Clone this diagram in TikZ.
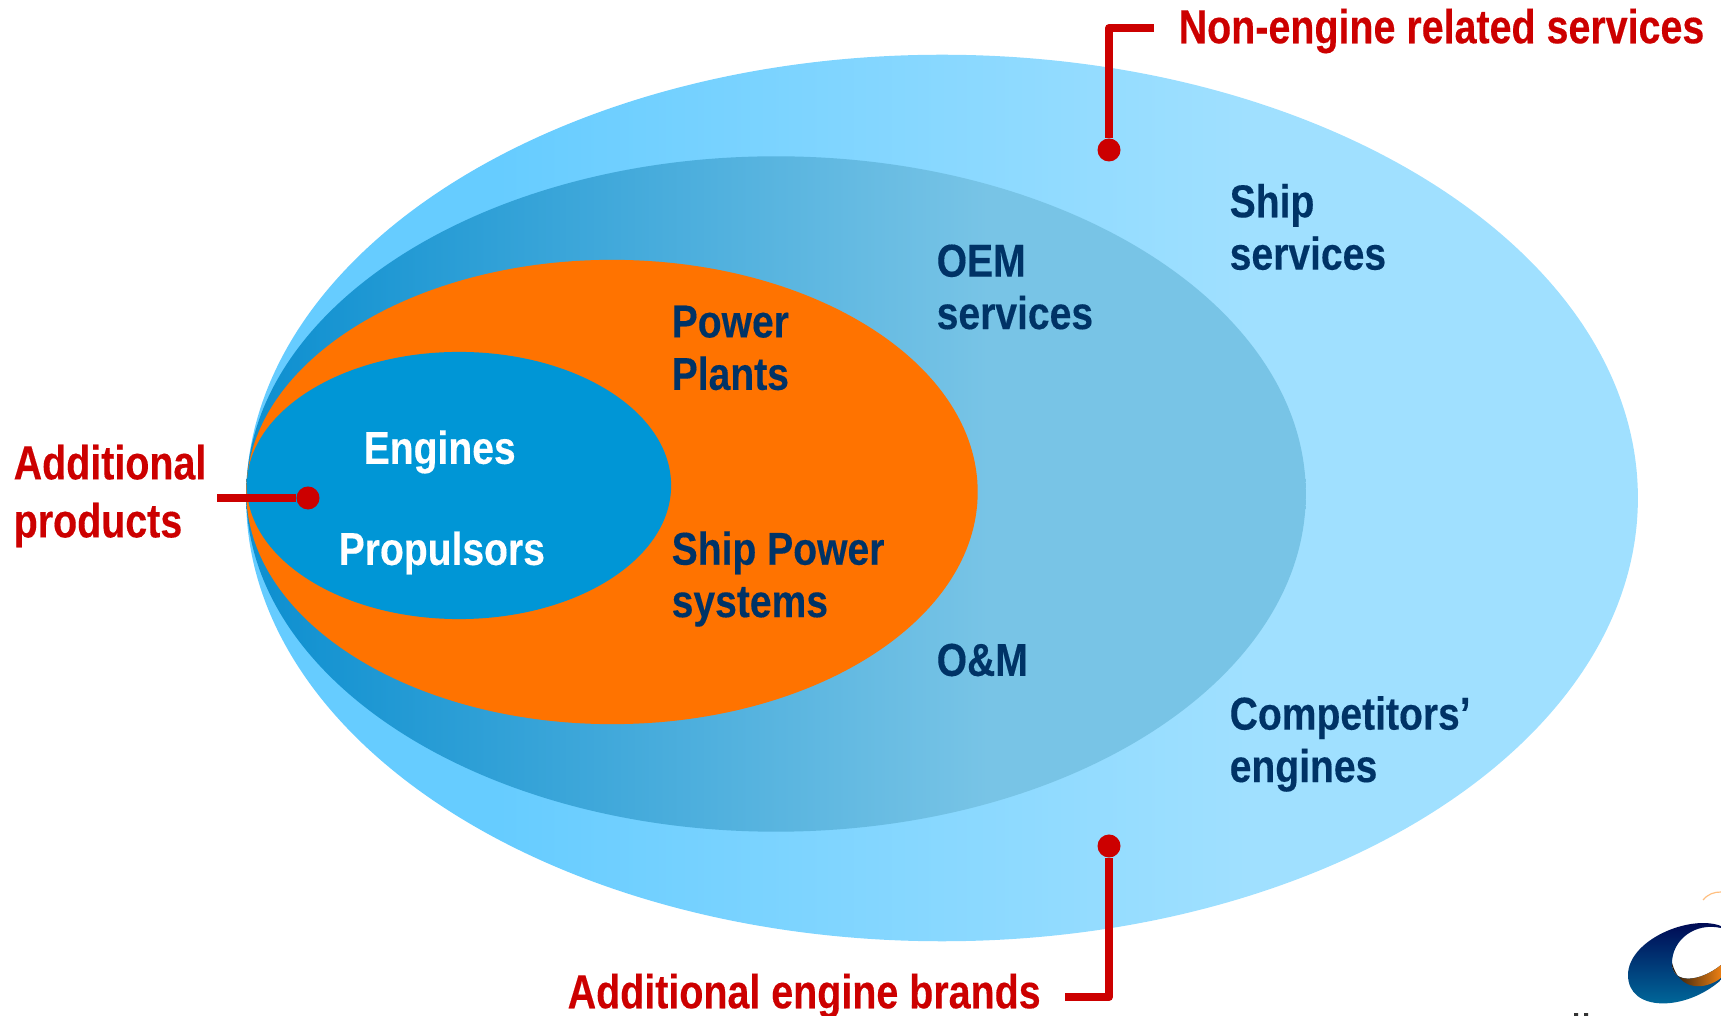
\documentclass[tikz,border=0pt]{standalone}
\usepackage{fontspec}
\usetikzlibrary{shapes.geometric}
\newfontfamily\redfont[FakeStretch=0.824,FakeBold=0.25]{Liberation Sans Bold}
\newfontfamily\navyfont[FakeStretch=0.848,FakeBold=0.25]{Liberation Sans Bold}
\definecolor{markred}{HTML}{CC0000}
\definecolor{navytext}{HTML}{003366}
\definecolor{coreblue}{HTML}{0096D6}
\definecolor{plantorange}{HTML}{FF7300}
\definecolor{outerleft}{HTML}{66CCFF}
\definecolor{outerright}{HTML}{A0E0FF}
\definecolor{oemleft}{HTML}{0F90D0}
\definecolor{oemright}{HTML}{78C4E6}
\pgfdeclarehorizontalshading{outerfade}{100bp}{color(0bp)=(outerleft); color(34bp)=(outerleft); color(61bp)=(outerright); color(100bp)=(outerright)}
\pgfdeclarehorizontalshading{oemfade}{100bp}{color(0bp)=(oemleft); color(26bp)=(oemleft); color(60bp)=(oemright); color(100bp)=(oemright)}
\tikzstyle{ring}=[ellipse, inner sep=0pt, outer sep=0pt]
\tikzstyle{redlabel}=[align=left, inner sep=0pt, anchor=west, color=markred, font=\redfont\fontsize{13.6}{16.5}\selectfont]
\tikzstyle{navylabel}=[align=left, inner sep=0pt, anchor=west, color=navytext, font=\navyfont\fontsize{13.1}{14.9}\selectfont]
\tikzstyle{whitelabel}=[navylabel, color=white]
\tikzstyle{pin}=[circle, fill=markred, inner sep=0pt, minimum size=0.23cm]
\tikzstyle{leader}=[color=markred, line width=0.08cm, line join=round]

\begin{document}
\begin{tikzpicture}[x=0.01cm, y=-0.01cm]
\useasboundingbox (0,0) rectangle (1721,1016);

\node[ring, shading=outerfade, minimum width=13.91cm, minimum height=8.86cm] (outer) at (942,498) {};
\node[ring, shading=oemfade, minimum width=10.59cm, minimum height=6.75cm] (oem) at (776,494) {};
\node[ring, fill=plantorange, minimum width=7.31cm, minimum height=4.64cm] (plants) at (612,492) {};
\node[ring, fill=coreblue, minimum width=4.24cm, minimum height=2.67cm] (core) at (459,485.5) {};

\node[whitelabel] (engines) at (363,452) {Engines};
\node[whitelabel] (propulsors) at (338,553) {Propulsors};
\node[navylabel] (power) at (671,348) {Power\\Plants};
\node[navylabel] (shippower) at (671,579) {Ship Power\\systems};
\node[navylabel] (oemserv) at (936,287) {OEM\\services};
\node[navylabel] (om) at (936,660) {O\&M};
\node[navylabel] (shipserv) at (1229,227) {Ship\\services};
\node[navylabel] (rivals) at (1229,744) {Competitors’\\engines};

\node[redlabel] (nonengine) at (1178,31) {Non-engine related services};
\node[redlabel] (brands) at (567,996) {Additional engine brands};
\node[redlabel] (products) at (13,496) {Additional\\products};

\node[pin] (toppin) at (1109,150) {};
\node[pin] (lowpin) at (1109,846) {};
\node[pin] (leftpin) at (308,498) {};
\coordinate (topend) at (1154,28);
\coordinate (lowend) at (1065,997);
\coordinate (leftend) at (217,498);
\draw[leader] (topend) -| (toppin);
\draw[leader] (lowend) -| (lowpin);
\draw[leader] (leftend) -- (leftpin);

% logo in the corner
\shade[top color=black!70!blue, middle color=coreblue!80!black, bottom color=coreblue!75!black] (1721,926) .. controls (1690,914) and (1628,940) .. (1628,975) .. controls (1628,1012) and (1685,1012) .. (1721,980) -- (1721,965) .. controls (1700,982) and (1672,985) .. (1672,963) .. controls (1672,940) and (1695,922) .. (1721,928) -- cycle;
\shade[left color=black!80!brown, right color=orange!70!brown] (1672,963) .. controls (1672,985) and (1700,982) .. (1721,965) -- (1721,978) .. controls (1705,990) and (1680,992) .. (1672,963) -- cycle;
\draw[color=orange!50, line width=0.012cm] (1703,900) .. controls (1708,894) and (1714,892) .. (1721,892);
\fill[color=black!80] (1574,1013) rectangle (1578,1016) (1584,1013) rectangle (1588,1016);
\end{tikzpicture}
\end{document}
